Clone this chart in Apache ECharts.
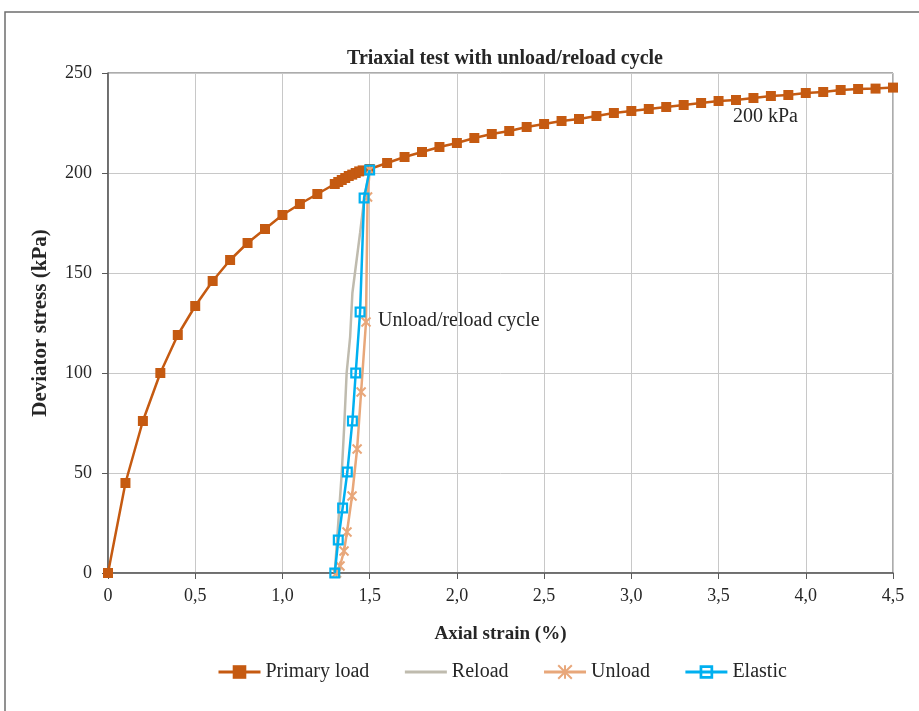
<!DOCTYPE html>
<html>
<head>
<meta charset="utf-8">
<script src="https://cdn.jsdelivr.net/npm/echarts@6/dist/echarts.min.js"></script>
<style>
html,body{margin:0;padding:0;background:#fff;}
#chart{width:919px;height:711px;}
</style>
</head>
<body>
<div id="chart"></div>
<script>
// ---- data ----
var primaryX = [0, 0.1, 0.2, 0.3, 0.4, 0.5, 0.6, 0.7, 0.8, 0.9, 1.0, 1.1, 1.2, 1.3, 1.32, 1.34, 1.36, 1.38, 1.40, 1.42, 1.44, 1.46, 1.5,
  1.6, 1.7, 1.8, 1.9, 2.0, 2.1, 2.2, 2.3, 2.4, 2.5, 2.6, 2.7, 2.8, 2.9, 3.0, 3.1, 3.2, 3.3, 3.4, 3.5, 3.6, 3.7, 3.8, 3.9, 4.0, 4.1, 4.2, 4.3, 4.4, 4.5];
var primaryY = [0, 45, 76, 100, 119, 133.5, 146, 156.5, 165, 172, 179, 184.5, 189.5, 194.5, 195.5, 196.5, 197.5, 198.5, 199.2, 200, 200.8, 201.3, 202,
  205, 208, 210.5, 213, 215, 217.5, 219.5, 221, 223, 224.5, 226, 227, 228.5, 230, 231, 232, 233, 234, 235, 236, 236.5, 237.5, 238.5, 239, 240, 240.5, 241.5, 242, 242.2, 242.7];
var reloadX = [1.30, 1.32, 1.34, 1.355, 1.368, 1.388, 1.401, 1.445, 1.47, 1.5];
var reloadY = [0, 25, 50, 75, 100, 118, 140, 170, 188, 201.5];
var unloadX = [1.5, 1.488, 1.479, 1.451, 1.428, 1.399, 1.370, 1.353, 1.330, 1.31];
var unloadY = [201.5, 188, 125.5, 90.5, 62, 38.5, 20.5, 11, 3.5, 0];
var elasticX = [1.30, 1.320, 1.345, 1.372, 1.401, 1.420, 1.445, 1.468, 1.50];
var elasticY = [0, 16.5, 32.5, 50.5, 76, 100, 130.5, 187.5, 201.5];
var xTicks = [0, 0.5, 1.0, 1.5, 2.0, 2.5, 3.0, 3.5, 4.0, 4.5];
var yTicks = [0, 50, 100, 150, 200, 250];
var seriesNames = ['Primary load', 'Reload', 'Unload', 'Elastic'];
var titleText = 'Triaxial test with unload/reload cycle';
var xName = 'Axial strain (%)';
var yName = 'Deviator stress (kPa)';
var note1 = '200 kPa';
var note2 = 'Unload/reload cycle';

function zip(a, b) { return a.map(function (v, i) { return [v, b[i]]; }); }

var FONT = '"Liberation Serif", "DejaVu Serif", serif';
var TXT = '#262626';
var chart = echarts.init(document.getElementById('chart'));
var frameSym = 'path://M0,0L10,0L10,10L0,10Z M2,2L2,8L8,8L8,2Z';
var starSym = 'path://M0,0L10,10M10,0L0,10M5,0L5,10';

chart.setOption({
  animation: false,
  backgroundColor: '#fff',
  title: {
    text: titleText, left: 500, top: 44, textAlign: 'center',
    textStyle: { fontFamily: FONT, fontWeight: 'bold', fontSize: 20, color: TXT }
  },
  grid: { left: 108, right: 26, top: 73, bottom: 138, show: true, borderColor: '#595959', borderWidth: 1 },
  legend: {
    top: 657, left: 212, itemWidth: 42, itemHeight: 17, itemGap: 34,
    lineStyle: { width: 3 },
    textStyle: { fontFamily: FONT, fontSize: 20, color: TXT },
    data: [
      { name: seriesNames[0] },
      { name: seriesNames[1], itemStyle: { opacity: 0 } },
      { name: seriesNames[2] },
      { name: seriesNames[3] }
    ]
  },
  xAxis: {
    type: 'value', min: xTicks[0], max: xTicks[xTicks.length - 1], interval: 0.5,
    name: xName, nameLocation: 'middle', nameGap: 52,
    nameTextStyle: { fontFamily: FONT, fontWeight: 'bold', fontSize: 19, color: TXT },
    axisLine: { show: true, lineStyle: { color: '#595959', width: 1.5 } },
    axisTick: { show: true, length: 6, lineStyle: { color: '#595959' } },
    axisLabel: { fontFamily: FONT, fontSize: 18, color: TXT, margin: 14,
      formatter: function (v) { return v === 0 ? '0' : v.toFixed(1).replace('.', ','); } },
    splitLine: { show: true, lineStyle: { color: '#c8c8c8', width: 1 } }
  },
  yAxis: {
    type: 'value', min: yTicks[0], max: yTicks[yTicks.length - 1], interval: 50,
    name: yName, nameLocation: 'middle', nameGap: 57,
    nameTextStyle: { fontFamily: FONT, fontWeight: 'bold', fontSize: 21, color: TXT },
    axisLine: { show: true, lineStyle: { color: '#595959', width: 1.5 } },
    axisTick: { show: true, length: 6, lineStyle: { color: '#595959' } },
    axisLabel: { fontFamily: FONT, fontSize: 18, color: TXT, margin: 16 },
    splitLine: { show: true, lineStyle: { color: '#c8c8c8', width: 1 } }
  },
  series: [
    { name: seriesNames[0], type: 'line', data: zip(primaryX, primaryY), symbol: 'rect', symbolSize: 10,
      lineStyle: { color: '#c55a11', width: 2.5 }, itemStyle: { color: '#c55a11' }, z: 2 },
    { name: seriesNames[1], type: 'line', data: zip(reloadX, reloadY), symbol: 'none',
      lineStyle: { color: '#bfbbae', width: 2.5 }, itemStyle: { color: '#bfbbae' }, z: 3 },
    { name: seriesNames[2], type: 'line', data: zip(unloadX, unloadY), symbol: starSym, symbolSize: 9,
      lineStyle: { color: '#e8a77a', width: 2.5 }, itemStyle: { color: '#e8a77a', borderColor: '#e8a77a', borderWidth: 2 }, z: 4 },
    { name: seriesNames[3], type: 'line', data: zip(elasticX, elasticY), symbol: frameSym, symbolSize: 11,
      lineStyle: { color: '#00b0f0', width: 2.5 }, itemStyle: { color: '#00b0f0' }, z: 5 }
  ],
  graphic: [
    { type: 'rect', shape: { x: 5, y: 12, width: 1000, height: 1000 }, style: { fill: 'none', stroke: '#6e6e6e', lineWidth: 1.5 }, silent: true, z: -1 },
    { type: 'text', left: 733, top: 107, style: { text: note1, font: '20px ' + FONT, fill: TXT } },
    { type: 'text', left: 378, top: 311, style: { text: note2, font: '20px ' + FONT, fill: TXT } }
  ]
});
</script>
</body>
</html>
